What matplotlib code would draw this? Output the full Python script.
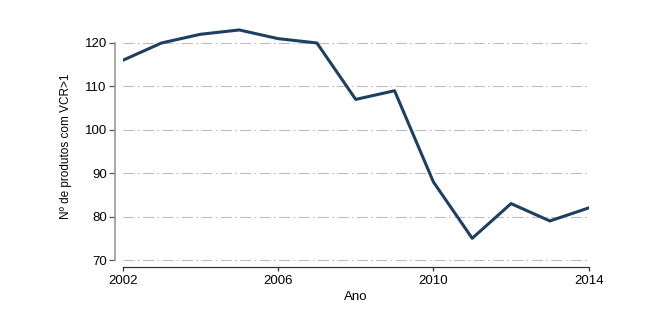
import matplotlib
matplotlib.use("Agg")
import matplotlib.pyplot as plt

# Nº de produtos com VCR>1 por ano
anos = [2002, 2003, 2004, 2005, 2006, 2007, 2008, 2009, 2010, 2011, 2012, 2013, 2014]
produtos = [116, 120, 122, 123, 121, 120, 107, 109, 88, 75, 83, 79, 82]
yticks = [70, 80, 90, 100, 110, 120]
xticks = [2002, 2006, 2010, 2014]

plt.rcParams['font.family'] = ['Liberation Sans', 'DejaVu Sans']

fig = plt.figure(figsize=(6.48, 3.15), dpi=100)
ax = fig.add_axes([0.1894, 0.1533, 0.7191, 0.7654])

for v in yticks:
    ax.axhline(v, color='#bdbdbd', linewidth=0.8, dashes=(10, 3, 1.5, 3), zorder=1)

ax.plot(anos, produtos, color='#1d3f62', linewidth=2.2, zorder=3)

ax.set_xlim(2002, 2014)
ax.set_ylim(68.46, 124)

ax.spines['top'].set_visible(False)
ax.spines['right'].set_visible(False)
ax.spines['left'].set_position(('outward', 5.5))
ax.spines['left'].set_bounds(70, 120)
ax.spines['left'].set_color('#9a9a9a')
ax.spines['left'].set_linewidth(1.2)
ax.spines['bottom'].set_color('#333333')
ax.spines['bottom'].set_linewidth(0.9)

ax.set_yticks(yticks)
ax.set_xticks(xticks)
ax.tick_params(axis='y', length=4, width=0.9, color='#555555', labelsize=9.5, pad=2)
ax.tick_params(axis='x', length=3, width=0.9, color='#333333', labelsize=9.5, pad=3)

ax.set_xlabel('Ano', fontsize=9.5, labelpad=3)
ax.set_ylabel('Nº de produtos com VCR>1', fontsize=8.5, labelpad=9)

fig.savefig('out.png', dpi=100)
